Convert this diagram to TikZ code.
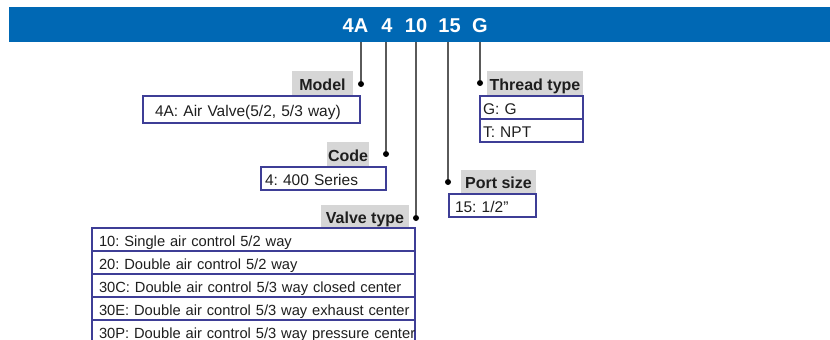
\documentclass[tikz,border=0pt]{standalone}
\usepackage{fontspec}
\setmainfont{Liberation Sans}
\frenchspacing
\definecolor{barblue}{RGB}{0,104,180}
\definecolor{boxline}{RGB}{62,62,150}
\definecolor{labelgray}{RGB}{214,214,214}
\definecolor{connline}{RGB}{90,90,90}
\definecolor{txt}{RGB}{30,30,30}
\begin{document}
\begin{tikzpicture}[x=1pt,y=-1pt,
  cell/.style={draw=boxline,line width=1.2pt,outer sep=0pt,anchor=north west,inner ysep=0pt,align=left,
    text height=13pt,text depth=0pt,text=txt,font=\frenchspacing\fontsize{15.5}{18}\selectfont},
  vrow/.style={cell,minimum width=323pt,minimum height=23pt,inner xsep=7pt,text width=309pt,
    font=\frenchspacing\fontsize{14.7}{18}\selectfont},
  tag/.style={fill=labelgray,anchor=north west,inner sep=0pt,outer sep=0pt,text height=13pt,text depth=0pt,
    text=txt,font=\bfseries\fontsize{16}{19}\selectfont},
  code/.style={text=white,font=\bfseries\fontsize{20}{24}\selectfont,anchor=base,inner sep=0pt},
  dot/.style={circle,fill=black,inner sep=0pt,minimum size=6pt},
  conn/.style={draw=connline,line width=1.1pt}]
\useasboundingbox (0,0) rectangle (830,340);

% header bar
\node[fill=barblue,anchor=north west,inner sep=0pt,outer sep=0pt,minimum width=821pt,minimum height=35pt] (bar) at (9,7) {};
\node[code] (c4A) at (355.5,32) {4A};
\node[code] (c4)  at (387,32) {4};
\node[code] (c10) at (416,32) {10};
\node[code] (c15) at (449.5,32) {15};
\node[code] (cG)  at (480,32) {G};

% dots
\node[dot] (dModel)  at (361,84) {};
\node[dot] (dCode)   at (386,154) {};
\node[dot] (dValve)  at (416,218) {};
\node[dot] (dPort)   at (448,182) {};
\node[dot] (dThread) at (480,83) {};

% connectors
\draw[conn] (dModel |- bar.south) -- (dModel);
\draw[conn] (dCode |- bar.south) -- (dCode);
\draw[conn] (dValve |- bar.south) -- (dValve);
\draw[conn] (dPort |- bar.south) -- (dPort);
\draw[conn] (dThread |- bar.south) -- (dThread);

% Model
\node[tag,minimum width=61pt,minimum height=25pt] (lModel) at (292,71) {Model};
\node[cell,minimum width=217pt,minimum height=27pt,inner xsep=12pt,text width=193pt] (model) at (143,96) {4A: Air Valve(5/2, 5/3 way)};

% Code
\node[tag,minimum width=42pt,minimum height=25pt] (lCode) at (327,142) {Code};
\node[cell,minimum width=125pt,minimum height=23pt,inner xsep=4pt,text width=117pt] (code) at (261,167) {4: 400 Series};

% Valve type
\node[tag,minimum width=88pt,minimum height=23pt] (lValve) at (321,205) {Valve type};
\node[vrow] (v1) at (92,228) {\mbox{10: Single air control 5/2 way}};
\node[vrow] (v2) at (v1.south west) {\mbox{20: Double air control 5/2 way}};
\node[vrow] (v3) at (v2.south west) {\mbox{30C: Double air control 5/3 way closed center}};
\node[vrow] (v4) at (v3.south west) {\mbox{30E: Double air control 5/3 way exhaust center}};
\node[vrow] (v5) at (v4.south west) {\mbox{30P: Double air control 5/3 way pressure center}};

% Port size
\node[tag,minimum width=75pt,minimum height=24pt] (lPort) at (461,170) {Port size};
\node[cell,minimum width=87pt,minimum height=23pt,inner xsep=6pt,text width=75pt] (port) at (449,194) {15: 1/2"};

% Thread type
\node[tag,minimum width=96pt,minimum height=25pt] (lThread) at (487,71) {Thread type};
\node[cell,minimum width=103pt,minimum height=23pt,inner xsep=3pt,text width=97pt] (t1) at (480,96) {G: G};
\node[cell,minimum width=103pt,minimum height=23pt,inner xsep=3pt,text width=97pt] (t2) at (t1.south west) {T: NPT};
\end{tikzpicture}
\end{document}
